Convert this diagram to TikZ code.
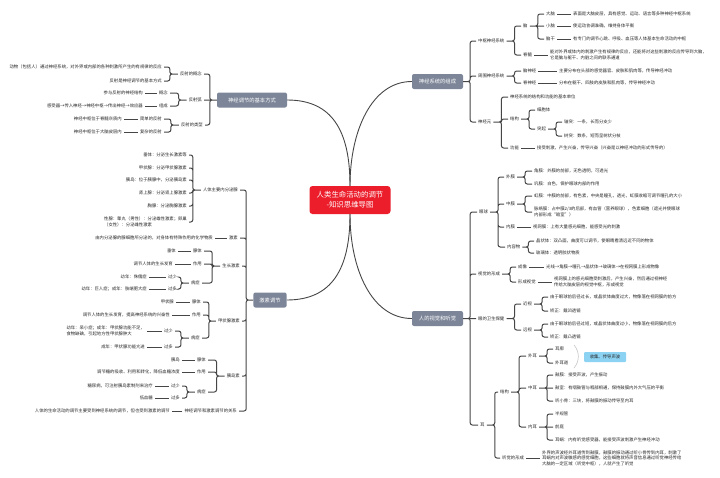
\documentclass[tikz,border=0pt]{standalone}
\usepackage{fontspec}
\setmainfont{Noto Sans CJK SC}
\definecolor{linegray}{RGB}{70,70,70}
\definecolor{textgray}{RGB}{40,40,40}
\definecolor{boxgray}{RGB}{125,134,152}
\definecolor{rootred}{RGB}{236,30,44}
\definecolor{boxblue}{RGB}{140,210,242}
\definecolor{curlgray}{RGB}{190,190,190}

\begin{document}
\begin{tikzpicture}[x=1pt,y=-1pt,
	txt/.style={font=\fontsize{4.35}{5.6}\selectfont,text=textgray,inner xsep=2pt,inner ysep=0.5pt,align=left},
	txtl/.style={txt,anchor=west},
	txtr/.style={txt,anchor=east},
	branch/.style={fill=boxgray,text=white,rounded corners=2pt,font=\fontsize{5.3}{6}\selectfont,minimum height=15pt,inner xsep=6pt},
	root/.style={fill=rootred,text=white,rounded corners=3pt,font=\fontsize{7.4}{10}\selectfont,align=center,minimum width=81pt,minimum height=28pt},
	wave/.style={fill=boxblue,text=textgray,font=\fontsize{4.35}{5}\selectfont,rounded corners=1pt,minimum width=42pt,minimum height=10pt,inner sep=1pt},
	link/.style={draw=linegray,line width=1pt,rounded corners=2.2pt},
	curve/.style={draw=linegray,line width=0.9pt},
	curl/.style={draw=curlgray,line width=0.5pt}]
		\fill[white] (0,0) rectangle (720,477);
		\useasboundingbox (0,0) rectangle (720,477);

		\node[root] (root) at (350,200) {人类生命活动的调节\\-知识思维导图};
		\node[branch,minimum width=51pt] (zc) at (437.5,81.5) {神经系统的组成};
		\node[branch,minimum width=51pt] (st) at (437.5,318.5) {人的视觉和听觉};
		\node[branch,minimum width=70pt] (fs) at (252,100) {神经调节的基本方式};
		\node[branch] (js) at (270,300) {激素调节};

		\draw[curve] (root.north) .. controls +(0,-55) and +(-40,0) .. (zc.west);
		\draw[curve] (root.north) .. controls +(0,-55) and +(45,0) .. (fs.east);
		\draw[curve] (root.south) .. controls +(0,55) and +(-40,0) .. (st.west);
		\draw[curve] (root.south) .. controls +(0,55) and +(45,0) .. (js.east);

		\node[txtl] (zc1) at (476,41) {中枢神经系统};
		\node[txtl] (zc1a) at (521,26) {脑};
		\node[txtl] (zc1a1) at (544,14) {大脑};
		\node[txtl] (zc1a1t) at (571,14) {表面是大脑皮层，具有感觉、运动、语言等多种神经中枢系统};
		\node[txtl] (zc1a2) at (544,26) {小脑};
		\node[txtl] (zc1a2t) at (571,26) {使运动协调准确，维持身体平衡};
		\node[txtl] (zc1a3) at (544,39) {脑干};
		\node[txtl] (zc1a3t) at (571,39) {有专门的调节心跳、呼吸、血压等人体基本生命活动的中枢};
		\node[txtl] (zc1b) at (521,55) {脊髓};
		\node[txtl] (zc1bt) at (548,55) {能对外界或体内的刺激产生有规律的反应，还能将对这些刺激的反应传导到大脑，\\它是脑与躯干、内脏之间的联系通道};
		\node[txtl] (zc2) at (476,76) {周围神经系统};
		\node[txtl] (zc2a) at (521,71) {脑神经};
		\node[txtl] (zc2at) at (557,71) {主要分布在头部的感觉器官、皮肤和肌肉等，传导神经冲动};
		\node[txtl] (zc2b) at (521,83) {脊神经};
		\node[txtl] (zc2bt) at (557,83) {分布在躯干、四肢的皮肤和肌肉等，传导神经冲动};
		\node[txtl] (zc3) at (476,122) {神经元};
		\node[txtl] (zc3a) at (508,97) {神经系统的结构和功能的基本单位};
		\node[txtl] (zc3b) at (508,119) {结构};
		\node[txtl] (zc3b1) at (535,110) {细胞体};
		\node[txtl] (zc3b2) at (535,129) {突起};
		\node[txtl] (zc3b2a) at (562,122) {轴突：一条，长而分支少};
		\node[txtl] (zc3b2b) at (562,136) {树突：数条，短而呈树状分枝};
		\node[txtl] (zc3c) at (508,148) {功能};
		\node[txtl] (zc3ct) at (535,148) {接受刺激，产生兴奋，传导兴奋（兴奋是以神经冲动的形式传导的）};

		\draw[link] (zc.east) -- ++(7,0) |- (zc1.west) (zc.east) -- ++(7,0) |- (zc2.west) (zc.east) -- ++(7,0) |- (zc3.west);
		\draw[link] (zc1.east) -- ++(8,0) |- (zc1a.west) (zc1.east) -- ++(8,0) |- (zc1b.west);
		\draw[link] (zc1a.east) -- ++(8,0) |- (zc1a1.west) (zc1a.east) -- (zc1a2.west) (zc1a.east) -- ++(8,0) |- (zc1a3.west);
		\draw[link] (zc1a1.east) -- (zc1a1t.west);
		\draw[link] (zc1a2.east) -- (zc1a2t.west);
		\draw[link] (zc1a3.east) -- (zc1a3t.west);
		\draw[link] (zc1b.east) -- (zc1bt.west);
		\draw[link] (zc2.east) -- ++(8,0) |- (zc2a.west) (zc2.east) -- ++(8,0) |- (zc2b.west);
		\draw[link] (zc2a.east) -- (zc2at.west);
		\draw[link] (zc2b.east) -- (zc2bt.west);
		\draw[link] (zc3.east) -- ++(8,0) |- (zc3a.west) (zc3.east) -- ++(8,0) |- (zc3b.west) (zc3.east) -- ++(8,0) |- (zc3c.west);
		\draw[link] (zc3b.east) -- ++(8,0) |- (zc3b1.west) (zc3b.east) -- ++(8,0) |- (zc3b2.west);
		\draw[link] (zc3b2.east) -- ++(8,0) |- (zc3b2a.west) (zc3b2.east) -- ++(8,0) |- (zc3b2b.west);
		\draw[link] (zc3c.east) -- (zc3ct.west);

		\node[txtl] (st1) at (477,212) {眼球};
		\node[txtl] (st1a) at (504,177) {外膜};
		\node[txtl] (st1a1) at (532,171) {角膜：外膜的前部，无色透明，可透光};
		\node[txtl] (st1a2) at (532,184) {巩膜：白色，保护眼球内部的作用};
		\node[txtl] (st1b) at (504,204) {中膜};
		\node[txtl] (st1b1) at (532,196) {虹膜：中膜的前部，有色素，中央是瞳孔，透光，虹膜收缩可调节瞳孔的大小};
		\node[txtl] (st1b2) at (532,212) {脉络膜：占中膜2/3的后部，有血管（营养眼球），色素细胞（遮光并使眼球\\内部形成“暗室”）};
		\node[txtl] (st1c) at (504,227) {内膜};
		\node[txtl] (st1ct) at (531,227) {视网膜：上有大量感光细胞，能感受光的刺激};
		\node[txtl] (st1d) at (505,247) {内容物};
		\node[txtl] (st1d1) at (534,241) {晶状体：双凸面，曲度可以调节，使眼睛看清远近不同的物体};
		\node[txtl] (st1d2) at (534,253) {玻璃体：透明胶状物质};
		\node[txtl] (st2) at (476,274) {视觉的形成};
		\node[txtl] (st2a) at (516,267) {成像};
		\node[txtl] (st2at) at (544,267) {光线→角膜→瞳孔→晶状体→玻璃体→在视网膜上形成物像};
		\node[txtl] (st2b) at (516,282) {形成视觉};
		\node[txtl] (st2bt) at (552,282) {视网膜上的感光细胞受刺激后，产生兴奋，然后通过视神经\\传给大脑皮层的视觉中枢，形成视觉};
		\node[txtl] (st3) at (476,318.5) {眼的卫生保健};
		\node[txtl] (st3a) at (521,304) {近视};
		\node[txtl] (st3a1) at (548,297) {由于眼球前后径过长，或晶状体曲度过大，物像落在视网膜的前方};
		\node[txtl] (st3a2) at (548,311) {矫正：戴凹透镜};
		\node[txtl] (st3b) at (521,330) {远视};
		\node[txtl] (st3b1) at (548,324) {由于眼球前后径过短，或晶状体曲度过小，物像落在视网膜的后方};
		\node[txtl] (st3b2) at (548,337) {矫正：戴凸透镜};
		\node[txtl] (st4) at (478,425) {耳};
		\node[txtl] (st4a) at (498,392) {结构};
		\node[txtl] (st4a1) at (526,356) {外耳};
		\node[txtl] (st4a1a) at (553,349) {耳廓};
		\node[txtl] (st4a1b) at (553,363) {外耳道};
		\node[wave] (st4a1t) at (605,357) {收集、传导声波};
		\node[txtl] (st4a2) at (526,388) {中耳};
		\node[txtl] (st4a2a) at (553,375) {鼓膜：接受声波，产生振动};
		\node[txtl] (st4a2b) at (553,388) {鼓室：有咽鼓管与咽部相通，保持鼓膜内外大气压的平衡};
		\node[txtl] (st4a2c) at (553,401) {听小骨：三块，将鼓膜的振动传导至内耳};
		\node[txtl] (st4a3) at (526,427) {内耳};
		\node[txtl] (st4a3a) at (553,414) {半规管};
		\node[txtl] (st4a3b) at (553,427) {前庭};
		\node[txtl] (st4a3c) at (553,440) {耳蜗：内有听觉感受器，能接受声波刺激产生神经冲动};
		\node[txtl] (st4b) at (500,458) {听觉的形成};
		\node[txtl] (st4bt) at (540,458) {外界的声波经外耳道传到鼓膜，鼓膜的振动通过听小骨传到内耳，刺激了\\耳蜗内对声波敏感的感觉细胞，这些细胞就将声音信息通过听觉神经传给\\大脑的一定区域（听觉中枢），人就产生了听觉};

		\draw[link] (st.east) -- ++(7,0) |- (st1.west) (st.east) -- ++(7,0) |- (st2.west) (st.east) -- (st3.west) (st.east) -- ++(7,0) |- (st4.west);
		\draw[link] (st1.east) -- ++(8,0) |- (st1a.west) (st1.east) -- ++(8,0) |- (st1b.west) (st1.east) -- ++(8,0) |- (st1c.west) (st1.east) -- ++(8,0) |- (st1d.west);
		\draw[link] (st1a.east) -- ++(8,0) |- (st1a1.west) (st1a.east) -- ++(8,0) |- (st1a2.west);
		\draw[link] (st1b.east) -- ++(8,0) |- (st1b1.west) (st1b.east) -- ++(8,0) |- (st1b2.west);
		\draw[link] (st1c.east) -- (st1ct.west);
		\draw[link] (st1d.east) -- ++(6,0) |- (st1d1.west) (st1d.east) -- ++(6,0) |- (st1d2.west);
		\draw[link] (st2.east) -- ++(8,0) |- (st2a.west) (st2.east) -- ++(8,0) |- (st2b.west);
		\draw[link] (st2a.east) -- (st2at.west);
		\draw[link] (st2b.east) -- (st2bt.west);
		\draw[link] (st3.east) -- ++(8,0) |- (st3a.west) (st3.east) -- ++(8,0) |- (st3b.west);
		\draw[link] (st3a.east) -- ++(8,0) |- (st3a1.west) (st3a.east) -- ++(8,0) |- (st3a2.west);
		\draw[link] (st3b.east) -- ++(8,0) |- (st3b1.west) (st3b.east) -- ++(8,0) |- (st3b2.west);
		\draw[link] (st4.east) -- ++(8,0) |- (st4a.west) (st4.east) -- ++(8,0) |- (st4b.west);
		\draw[link] (st4a.east) -- ++(8,0) |- (st4a1.west) (st4a.east) -- ++(8,0) |- (st4a2.west) (st4a.east) -- ++(8,0) |- (st4a3.west);
		\draw[link] (st4a1.east) -- ++(8,0) |- (st4a1a.west) (st4a1.east) -- ++(8,0) |- (st4a1b.west);
		\draw[curl] (574,345) to[bend left=40] (574,368);
		\draw[link] (st4a2.east) -- ++(8,0) |- (st4a2a.west) (st4a2.east) -- (st4a2b.west) (st4a2.east) -- ++(8,0) |- (st4a2c.west);
		\draw[link] (st4a3.east) -- ++(8,0) |- (st4a3a.west) (st4a3.east) -- (st4a3b.west) (st4a3.east) -- ++(8,0) |- (st4a3c.west);
		\draw[link] (st4b.east) -- (st4bt.west);

		\node[txtr] (fs1) at (204,74) {反射的概念};
		\node[txtr] (fs1a) at (164,67) {动物（包括人）通过神经系统，对外界或内部的各种刺激所产生的有规律的反应};
		\node[txtr] (fs1b) at (164,81) {反射是神经调节的基本方式};
		\node[txtr] (fs2) at (204,100) {反射弧};
		\node[txtr] (fs2a) at (170,93) {概念};
		\node[txtr] (fs2at) at (145,93) {参与反射的神经结构};
		\node[txtr] (fs2b) at (170,106) {组成};
		\node[txtr] (fs2bt) at (145,106) {感受器→传入神经→神经中枢→传出神经→效应器};
		\node[txtr] (fs3) at (205,125) {反射的类型};
		\node[txtr] (fs3a) at (164,119) {简单的反射};
		\node[txtr] (fs3at) at (124,119) {神经中枢位于脊髓灰质内};
		\node[txtr] (fs3b) at (164,132) {复杂的反射};
		\node[txtr] (fs3bt) at (124,132) {神经中枢位于大脑皮层内};

		\draw[link] (fs.west) -- ++(-7,0) |- (fs1.east) (fs.west) -- (fs2.east) (fs.west) -- ++(-7,0) |- (fs3.east);
		\draw[link] (fs1.west) -- ++(-8,0) |- (fs1a.east) (fs1.west) -- ++(-8,0) |- (fs1b.east);
		\draw[link] (fs2.west) -- ++(-8,0) |- (fs2a.east) (fs2.west) -- ++(-8,0) |- (fs2b.east);
		\draw[link] (fs2a.west) -- (fs2at.east);
		\draw[link] (fs2b.west) -- (fs2bt.east);
		\draw[link] (fs3.west) -- ++(-8,0) |- (fs3a.east) (fs3.west) -- ++(-8,0) |- (fs3b.east);
		\draw[link] (fs3a.west) -- (fs3at.east);
		\draw[link] (fs3b.west) -- (fs3bt.east);

		\node[txtr] (js1) at (240,190) {人体主要内分泌腺};
		\node[txtr] (js1a) at (189,155) {垂体：分泌生长激素等};
		\node[txtr] (js1b) at (189,168) {甲状腺：分泌甲状腺激素};
		\node[txtr] (js1c) at (189,180) {胰岛：位于胰腺中，分泌胰岛素};
		\node[txtr] (js1d) at (189,193) {肾上腺：分泌肾上腺激素};
		\node[txtr] (js1e) at (189,206) {胸腺：分泌胸腺激素};
		\node[txtr] (js1f) at (189,222) {性腺：睾丸（男性）：分泌雄性激素；卵巢\\（女性）：分泌雌性激素};
		\node[txtr] (js2) at (240,238) {激素};
		\node[txtr] (js2t) at (215,238) {由内分泌腺的腺细胞所分泌的，对身体有特殊作用的化学物质};
		\node[txtr] (js3) at (242,266) {生长激素};
		\node[txtr] (js3a) at (204,251) {腺体};
		\node[txtr] (js3at) at (178,251) {垂体};
		\node[txtr] (js3b) at (204,264) {作用};
		\node[txtr] (js3bt) at (175,264) {调节人体的生长发育};
		\node[txtr] (js3c) at (202,283) {病症};
		\node[txtr] (js3c1) at (179,277) {过少};
		\node[txtr] (js3c1t) at (149,277) {幼年：侏儒症};
		\node[txtr] (js3c2) at (179,289) {过多};
		\node[txtr] (js3c2t) at (149,289) {幼年：巨人症；成年：肢端肥大症};
		\node[txtr] (js4) at (242,321) {甲状腺激素};
		\node[txtr] (js4a) at (203,302) {腺体};
		\node[txtr] (js4at) at (176,302) {甲状腺};
		\node[txtr] (js4b) at (203,315) {作用};
		\node[txtr] (js4bt) at (172,315) {调节人体的生长发育，提高神经系统的兴奋性};
		\node[txtr] (js4c) at (202,338) {病症};
		\node[txtr] (js4c1) at (175,331) {过少};
		\node[txtr] (js4c1t) at (147,331) {幼年：呆小症；成年：甲状腺功能不足，\\食物缺碘，引起地方性甲状腺肿大};
		\node[txtr] (js4c2) at (175,347) {过多};
		\node[txtr] (js4c2t) at (147,347) {成年：甲状腺功能亢进};
		\node[txtr] (js5) at (242,376) {胰岛素};
		\node[txtr] (js5a) at (208,360) {腺体};
		\node[txtr] (js5at) at (182,360) {胰岛};
		\node[txtr] (js5b) at (208,372) {作用};
		\node[txtr] (js5bt) at (182,372) {调节糖的吸收、利用和转化，降低血糖浓度};
		\node[txtr] (js5c) at (208,392) {病症};
		\node[txtr] (js5c1) at (182,386) {过少};
		\node[txtr] (js5c1t) at (155,386) {糖尿病，可注射胰岛素制剂来治疗};
		\node[txtr] (js5c2) at (182,398) {过多};
		\node[txtr] (js5c2t) at (155,398) {低血糖};
		\node[txtr] (js6) at (239,411) {神经调节和激素调节的关系};
		\node[txtr] (js6t) at (172,411) {人体的生命活动的调节主要受到神经系统的调节，但也受到激素的调节};

		\draw[link] (js.west) -- ++(-7,0) |- (js1.east) (js.west) -- ++(-7,0) |- (js2.east) (js.west) -- ++(-7,0) |- (js3.east) (js.west) -- ++(-7,0) |- (js4.east) (js.west) -- ++(-7,0) |- (js5.east) (js.west) -- ++(-7,0) |- (js6.east);
		\draw[link] (js1.west) -- ++(-8,0) |- (js1a.east) (js1.west) -- ++(-8,0) |- (js1b.east) (js1.west) -- ++(-8,0) |- (js1c.east) (js1.west) -- ++(-8,0) |- (js1d.east) (js1.west) -- ++(-8,0) |- (js1e.east) (js1.west) -- ++(-8,0) |- (js1f.east);
		\draw[link] (js2.west) -- (js2t.east);
		\draw[link] (js3.west) -- ++(-8,0) |- (js3a.east) (js3.west) -- ++(-8,0) |- (js3b.east) (js3.west) -- ++(-8,0) |- (js3c.east);
		\draw[link] (js3a.west) -- (js3at.east);
		\draw[link] (js3b.west) -- (js3bt.east);
		\draw[link] (js3c.west) -- ++(-8,0) |- (js3c1.east) (js3c.west) -- ++(-8,0) |- (js3c2.east);
		\draw[link] (js3c1.west) -- (js3c1t.east);
		\draw[link] (js3c2.west) -- (js3c2t.east);
		\draw[link] (js4.west) -- ++(-7,0) |- (js4a.east) (js4.west) -- ++(-7,0) |- (js4b.east) (js4.west) -- ++(-7,0) |- (js4c.east);
		\draw[link] (js4a.west) -- (js4at.east);
		\draw[link] (js4b.west) -- (js4bt.east);
		\draw[link] (js4c.west) -- ++(-8,0) |- (js4c1.east) (js4c.west) -- ++(-8,0) |- (js4c2.east);
		\draw[link] (js4c1.west) -- (js4c1t.east);
		\draw[link] (js4c2.west) -- (js4c2t.east);
		\draw[link] (js5.west) -- ++(-8,0) |- (js5a.east) (js5.west) -- ++(-8,0) |- (js5b.east) (js5.west) -- ++(-8,0) |- (js5c.east);
		\draw[link] (js5a.west) -- (js5at.east);
		\draw[link] (js5b.west) -- (js5bt.east);
		\draw[link] (js5c.west) -- ++(-8,0) |- (js5c1.east) (js5c.west) -- ++(-8,0) |- (js5c2.east);
		\draw[link] (js5c1.west) -- (js5c1t.east);
		\draw[link] (js5c2.west) -- (js5c2t.east);
		\draw[link] (js6.west) -- (js6t.east);
\end{tikzpicture}
\end{document}
